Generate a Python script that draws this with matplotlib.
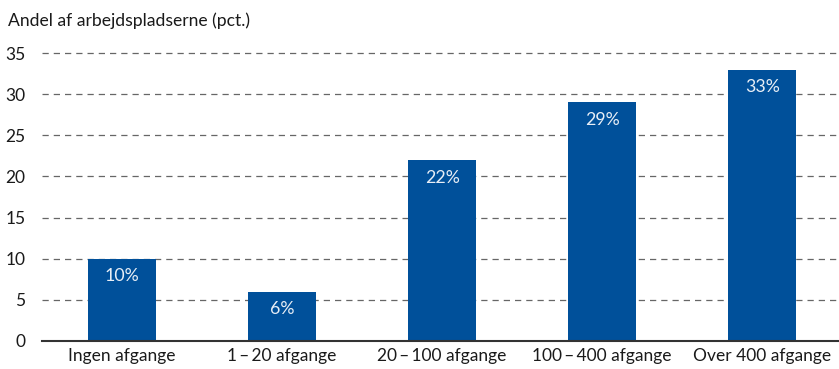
import matplotlib
matplotlib.use("Agg")
import matplotlib.pyplot as plt

# andel af arbejdspladserne efter antal afgange
categories = ["Ingen afgange", "1\u2009\u2013\u200920 afgange", "20\u2009\u2013\u2009100 afgange",
              "100\u2009\u2013\u2009400 afgange", "Over 400 afgange"]
shares = [10, 6, 22, 29, 33]
yticks = [0, 5, 10, 15, 20, 25, 30, 35]

plt.rcParams['font.family'] = ['Lato', 'DejaVu Sans']

fig = plt.figure(figsize=(8.39, 3.69), dpi=100)
ax = fig.add_axes([0.050, 0.0759, 0.950, 0.7848])

x = range(len(categories))
bars = ax.bar(x, shares, width=0.425, color="#00509a", zorder=3)

for b, v in zip(bars, shares):
    ax.annotate(f"{v}%", (b.get_x() + b.get_width() / 2, v), xytext=(0, -7),
                textcoords="offset points", ha="center", va="top",
                color="#e8eef6", fontsize=12.8, zorder=4)

ax.set_xlim(-0.5, 4.48)
ax.set_ylim(0, 35.2)
ax.set_yticks(yticks)
ax.set_xticks(list(x))
ax.set_xticklabels(categories)
ax.tick_params(axis="both", length=0, labelsize=12.5, colors="#1a1a1a")
ax.tick_params(axis="y", pad=12)
ax.tick_params(axis="x", pad=5)

ax.grid(axis="y", linestyle=(0, (5, 4)), color="#666666", linewidth=0.9, zorder=1)
for s in ["top", "right", "left"]:
    ax.spines[s].set_visible(False)
ax.spines["bottom"].set_color("#333333")
ax.spines["bottom"].set_linewidth(1.5)
ax.spines["bottom"].set_zorder(5)

fig.text(0.010, 0.945, "Andel af arbejdspladserne (pct.)", fontsize=12.6,
         color="#1a1a1a", ha="left", va="center")

fig.savefig("out.png", dpi=100)
